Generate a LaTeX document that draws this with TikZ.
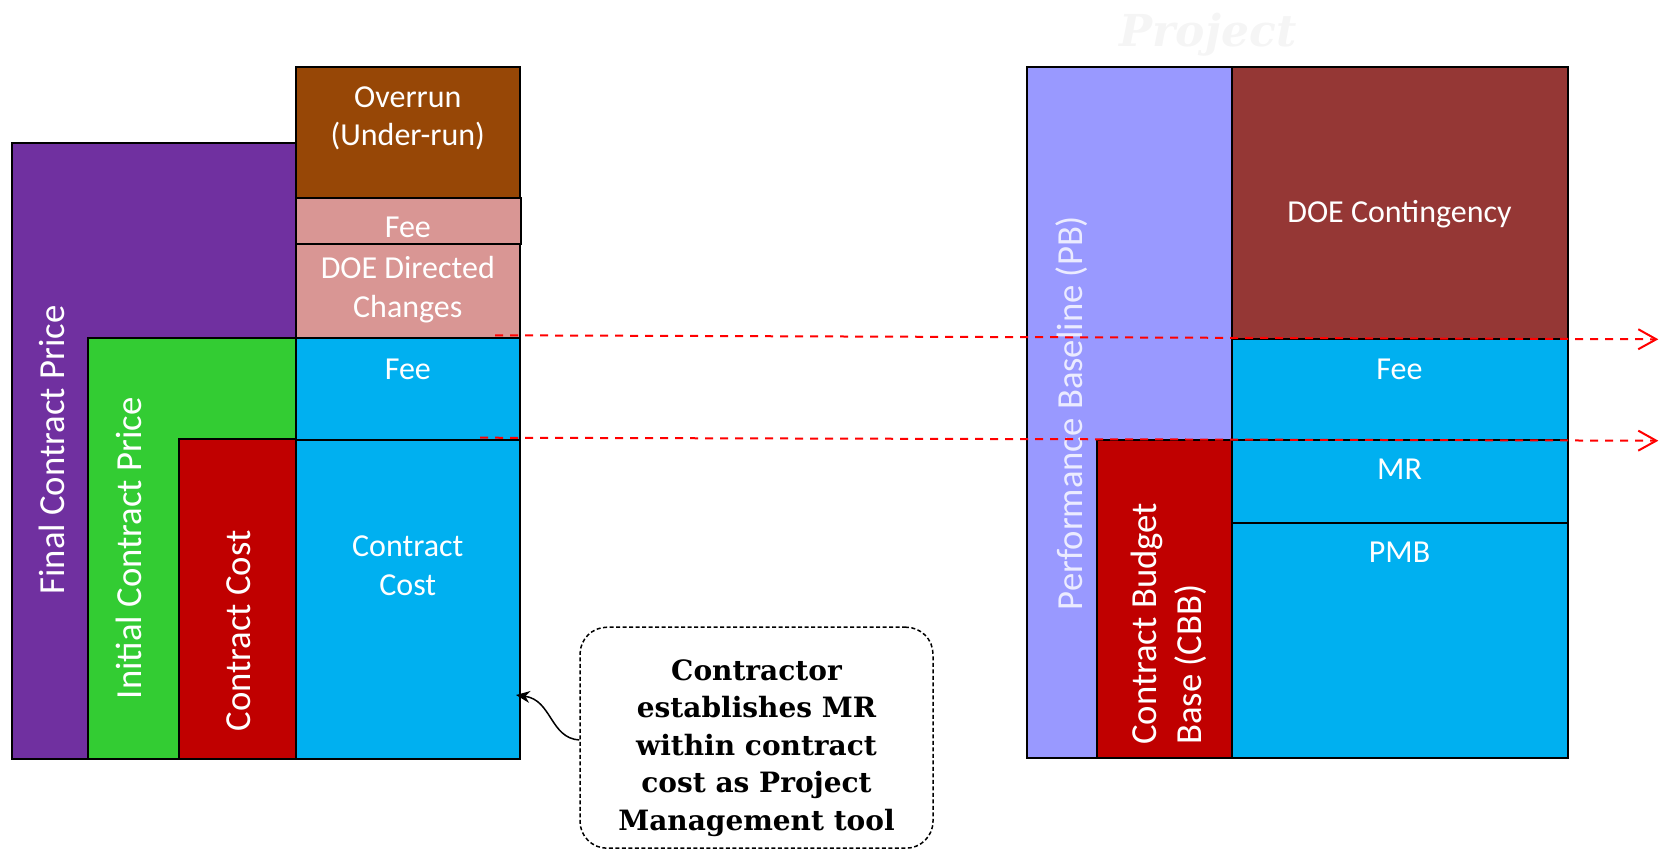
\documentclass[tikz,border=0pt]{standalone}
\usepackage{fontspec}
\setmainfont{Carlito}
\newfontfamily\callfont{DejaVu Serif}
\usetikzlibrary{arrows.meta}
\definecolor{cpurple}{HTML}{7030A0}
\definecolor{cbrown}{HTML}{974706}
\definecolor{cpink}{HTML}{D99694}
\definecolor{cgreen}{HTML}{33CC33}
\definecolor{cblue}{HTML}{00B0F0}
\definecolor{cred}{HTML}{C00000}
\definecolor{clav}{HTML}{9999FF}
\definecolor{cmaroon}{HTML}{953735}
\definecolor{cpbtext}{HTML}{EBEBFF}
\definecolor{cwater}{HTML}{F5F5F5}
\begin{document}
\begin{tikzpicture}[x=1pt,y=-1pt,
  box/.style={draw=black,line width=2pt},
  lbl/.style={text=white,font=\fontsize{32}{38.4}\selectfont,inner sep=0pt,align=center},
  vlbl/.style={text=white,font=\fontsize{36.7}{44}\selectfont,inner sep=0pt,rotate=90},
  guide/.style={draw=red,line width=2pt,dash pattern=on 8pt off 7pt,-{Straight Barb[length=18pt,width=20pt]}},
  callbox/.style={draw=black,line width=1.5pt,dash pattern=on 4pt off 2.5pt,rounded corners=27pt,minimum width=353pt,minimum height=221pt,inner sep=0pt},
  calltext/.style={font=\callfont\bfseries\fontsize{28}{37.5}\selectfont,align=center,inner sep=0pt},
  callarrow/.style={draw=black,line width=1.5pt,-{Stealth[length=14pt,width=12pt]}}
]
\useasboundingbox (0,0) rectangle (1661,850);
% watermark
\node[font=\callfont\bfseries\itshape\fontsize{44}{50}\selectfont,text=cwater,anchor=base,inner sep=0pt] (proj) at (1208,46.7) {Project};
% left stack
\draw[box,fill=cpurple] (11.7,143) rectangle (295.5,758.5);
\draw[box,fill=cgreen] (88,338) rectangle (295.5,758.5);
\draw[box,fill=cred] (179,439) rectangle (295.5,758.5);
\draw[box,fill=cbrown] (295.5,67.5) rectangle (520,198.5);
\draw[box,fill=cpink] (295.5,198.5) rectangle (520.5,244.5);
\draw[box,fill=cpink] (295.5,244.5) rectangle (520,338);
\draw[box,fill=cblue] (295.5,338) rectangle (520,439.5);
\draw[box,fill=cblue] (295.5,439.5) rectangle (520,758.5);
% right stack
\draw[box,fill=clav] (1027,67.5) rectangle (1231.5,758);
\draw[box,fill=cmaroon] (1231.5,67.5) rectangle (1567.5,338.5);
\draw[box,fill=cblue] (1231.5,338.5) rectangle (1567.5,439.5);
\draw[box,fill=cred] (1097,439.5) rectangle (1231.5,758);
\draw[box,fill=cblue] (1231.5,439.5) rectangle (1567.5,522.7);
\draw[box,fill=cblue] (1231.5,522.7) rectangle (1567.5,758);
% left labels
\node[lbl] (overrun) at (407.8,118.8) {\strut Overrun\\\strut (Under-run)};
\node[lbl,anchor=base] (fee1) at (407.8,237.7) {Fee};
\node[lbl] (doedc) at (407.8,290.2) {\strut DOE Directed\\\strut Changes};
\node[lbl,anchor=base] (fee2) at (407.8,379.3) {Fee};
\node[lbl] (cc) at (407.8,568.2) {\strut Contract\\\strut Cost};
\node[vlbl,anchor=base] (fcp) at (64.7,450) {Final Contract Price};
\node[vlbl,anchor=base] (icp) at (141,548.3) {Initial Contract Price};
\node[vlbl,anchor=base] (ccost) at (250.7,631) {Contract Cost};
% right labels
\node[lbl,anchor=base] (doec) at (1399.5,222.7) {DOE Contingency};
\node[lbl,anchor=base] (fee3) at (1399.5,379.3) {Fee};
\node[lbl,anchor=base] (mr) at (1399.5,479) {MR};
\node[lbl,anchor=base] (pmb) at (1399.5,562.3) {PMB};
\node[vlbl,anchor=base,text=cpbtext] (pb) at (1082,413) {Performance Baseline (PB)};
\node[vlbl,anchor=base west] (cbb1) at (1156,745) {Contract Budget};
\node[vlbl,anchor=base west] (cbb2) at (1201,745) {Base (CBB)};
% callout
\node[callbox] (call) at (756.5,737.7) {};
\node[calltext] (calltxt) at (756.5,747.5) {\strut Contractor\\\strut establishes MR\\\strut within contract\\\strut cost as Project\\\strut Management tool};
\coordinate (cctip) at (516,695);
\draw[callarrow] ([yshift=-2.3pt]call.west) .. controls (550,738) and (552,700) .. (cctip);
% guide lines
\coordinate (g1s) at (495,335.3);
\coordinate (g1e) at (1658.3,339.3);
\coordinate (g2s) at (480,437.7);
\coordinate (g2e) at (1658.3,440.7);
\draw[guide] (g1s) -- (g1e);
\draw[guide] (g2s) -- (g2e);
\end{tikzpicture}
\end{document}
